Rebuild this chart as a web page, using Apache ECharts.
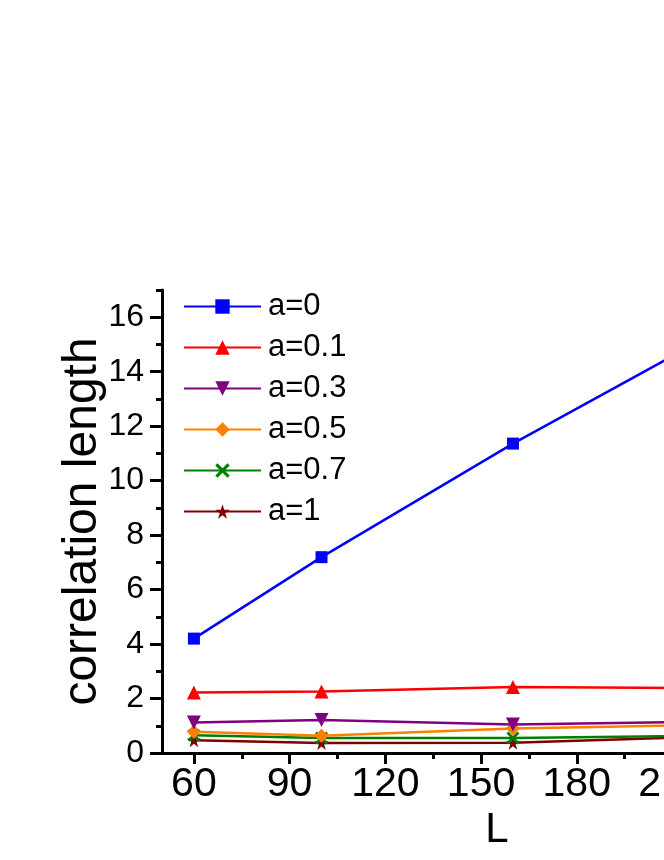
<!DOCTYPE html>
<html>
<head>
<meta charset="utf-8">
<script src="https://cdn.jsdelivr.net/npm/echarts@6/dist/echarts.min.js"></script>
<style>
html, body { margin:0; padding:0; overflow:hidden; background:#fff; width:664px; height:860px; }
#chart { width:900px; height:860px; }
</style>
</head>
<body>
<div id="chart"></div>
<script>
const L = [60, 100, 160, 240];
const a0  = [4.20, 7.19, 11.36, 16.5];
const a01 = [2.22, 2.26, 2.42, 2.37];
const a03 = [1.12, 1.21, 1.05, 1.18];
const a05 = [0.78, 0.63, 0.90, 1.07];
const a07 = [0.65, 0.55, 0.55, 0.66];
const a1  = [0.47, 0.37, 0.38, 0.67];
const seriesNames = ['a=0', 'a=0.1', 'a=0.3', 'a=0.5', 'a=0.7', 'a=1'];
const seriesValues = [a0, a01, a03, a05, a07, a1];
const xMajor = [60, 90, 120, 150, 180, 210, 240];
const xMinor = [75, 105, 135, 165, 195, 225, 255];
const yMajor = [0, 2, 4, 6, 8, 10, 12, 14, 16];
const yMinor = [1, 3, 5, 7, 9, 11, 13, 15, 17];

const colors = ['#0000ff', '#ff0000', '#800080', '#ff8000', '#008000', '#800000'];
const symbols = [
  'rect',
  'triangle',
  'path://M0,0 L10,0 L5,9 Z',
  'diamond',
  'path://M0,1.5 L1.5,0 L5,3.5 L8.5,0 L10,1.5 L6.5,5 L10,8.5 L8.5,10 L5,6.5 L1.5,10 L0,8.5 L3.5,5 Z',
  'path://M5,0 L6.18,3.62 L10,3.62 L6.91,5.86 L8.09,9.51 L5,7.24 L1.91,9.51 L3.09,5.86 L0,3.62 L3.82,3.62 Z'
];
const sizes = [12, 14, 14, 14, 13, 14];
const FONT = '"Liberation Sans", Arial, sans-serif';

const chart = echarts.init(document.getElementById('chart'), null, {renderer: 'canvas'});
const series = seriesNames.map((n, i) => ({
  name: n,
  type: 'line',
  xAxisIndex: 0,
  yAxisIndex: 0,
  data: L.map((x, j) => [x, seriesValues[i][j]]),
  symbol: symbols[i],
  symbolSize: sizes[i],
  showAllSymbol: true,
  color: colors[i],
  lineStyle: {width: 2.5, color: colors[i]},
  itemStyle: {color: colors[i]},
  z: 10 - i
}));

const axisLineStyle = {show: true, lineStyle: {color: '#000', width: 3}};
chart.setOption({
  animation: false,
  backgroundColor: '#fff',
  grid: {left: 162, top: 290, bottom: 107, right: 68, containLabel: false},
  legend: {
    orient: 'vertical',
    left: 178,
    top: 286,
    itemWidth: 77,
    itemHeight: 18,
    itemGap: 10,
    data: seriesNames,
    textStyle: {fontSize: 31, color: '#000', fontFamily: FONT, lineHeight: 30, padding: [0, 0, 0, 2]}
  },
  xAxis: [{
    type: 'value', min: 50, max: 260,
    name: 'L', nameLocation: 'middle', nameGap: 56, nameMoveOverlap: false,
    nameTextStyle: {fontSize: 42, color: '#000', fontFamily: FONT},
    axisLine: axisLineStyle,
    axisTick: {show: true, length: 11, lineStyle: {width: 3, color: '#000'}, customValues: xMajor},
    axisLabel: {fontSize: 41, color: '#000', fontFamily: FONT, margin: 11, customValues: xMajor},
    splitLine: {show: false}
  }, {
    type: 'value', min: 50, max: 260, position: 'bottom', offset: 0,
    axisLine: {show: false},
    axisTick: {show: true, length: 6, lineStyle: {width: 3, color: '#000'}, customValues: xMinor},
    axisLabel: {show: false},
    splitLine: {show: false}
  }],
  yAxis: [{
    type: 'value', min: 0, max: 17, interval: 1,
    name: 'correlation length', nameLocation: 'middle', nameGap: 55, nameRotate: 90, nameMoveOverlap: false,
    nameTextStyle: {fontSize: 48, color: '#000', fontFamily: FONT},
    axisLine: axisLineStyle,
    axisTick: {show: true, length: 12, lineStyle: {width: 3, color: '#000'}, customValues: yMajor},
    axisLabel: {fontSize: 32, color: '#000', fontFamily: FONT, margin: 18, customValues: yMajor},
    splitLine: {show: false}
  }, {
    type: 'value', min: 0, max: 17, interval: 1, position: 'left', offset: 0,
    axisLine: {show: false},
    axisTick: {show: true, length: 6, lineStyle: {width: 3, color: '#000'}, customValues: yMinor},
    axisLabel: {show: false},
    splitLine: {show: false}
  }],
  series: series
});
</script>
</body>
</html>
